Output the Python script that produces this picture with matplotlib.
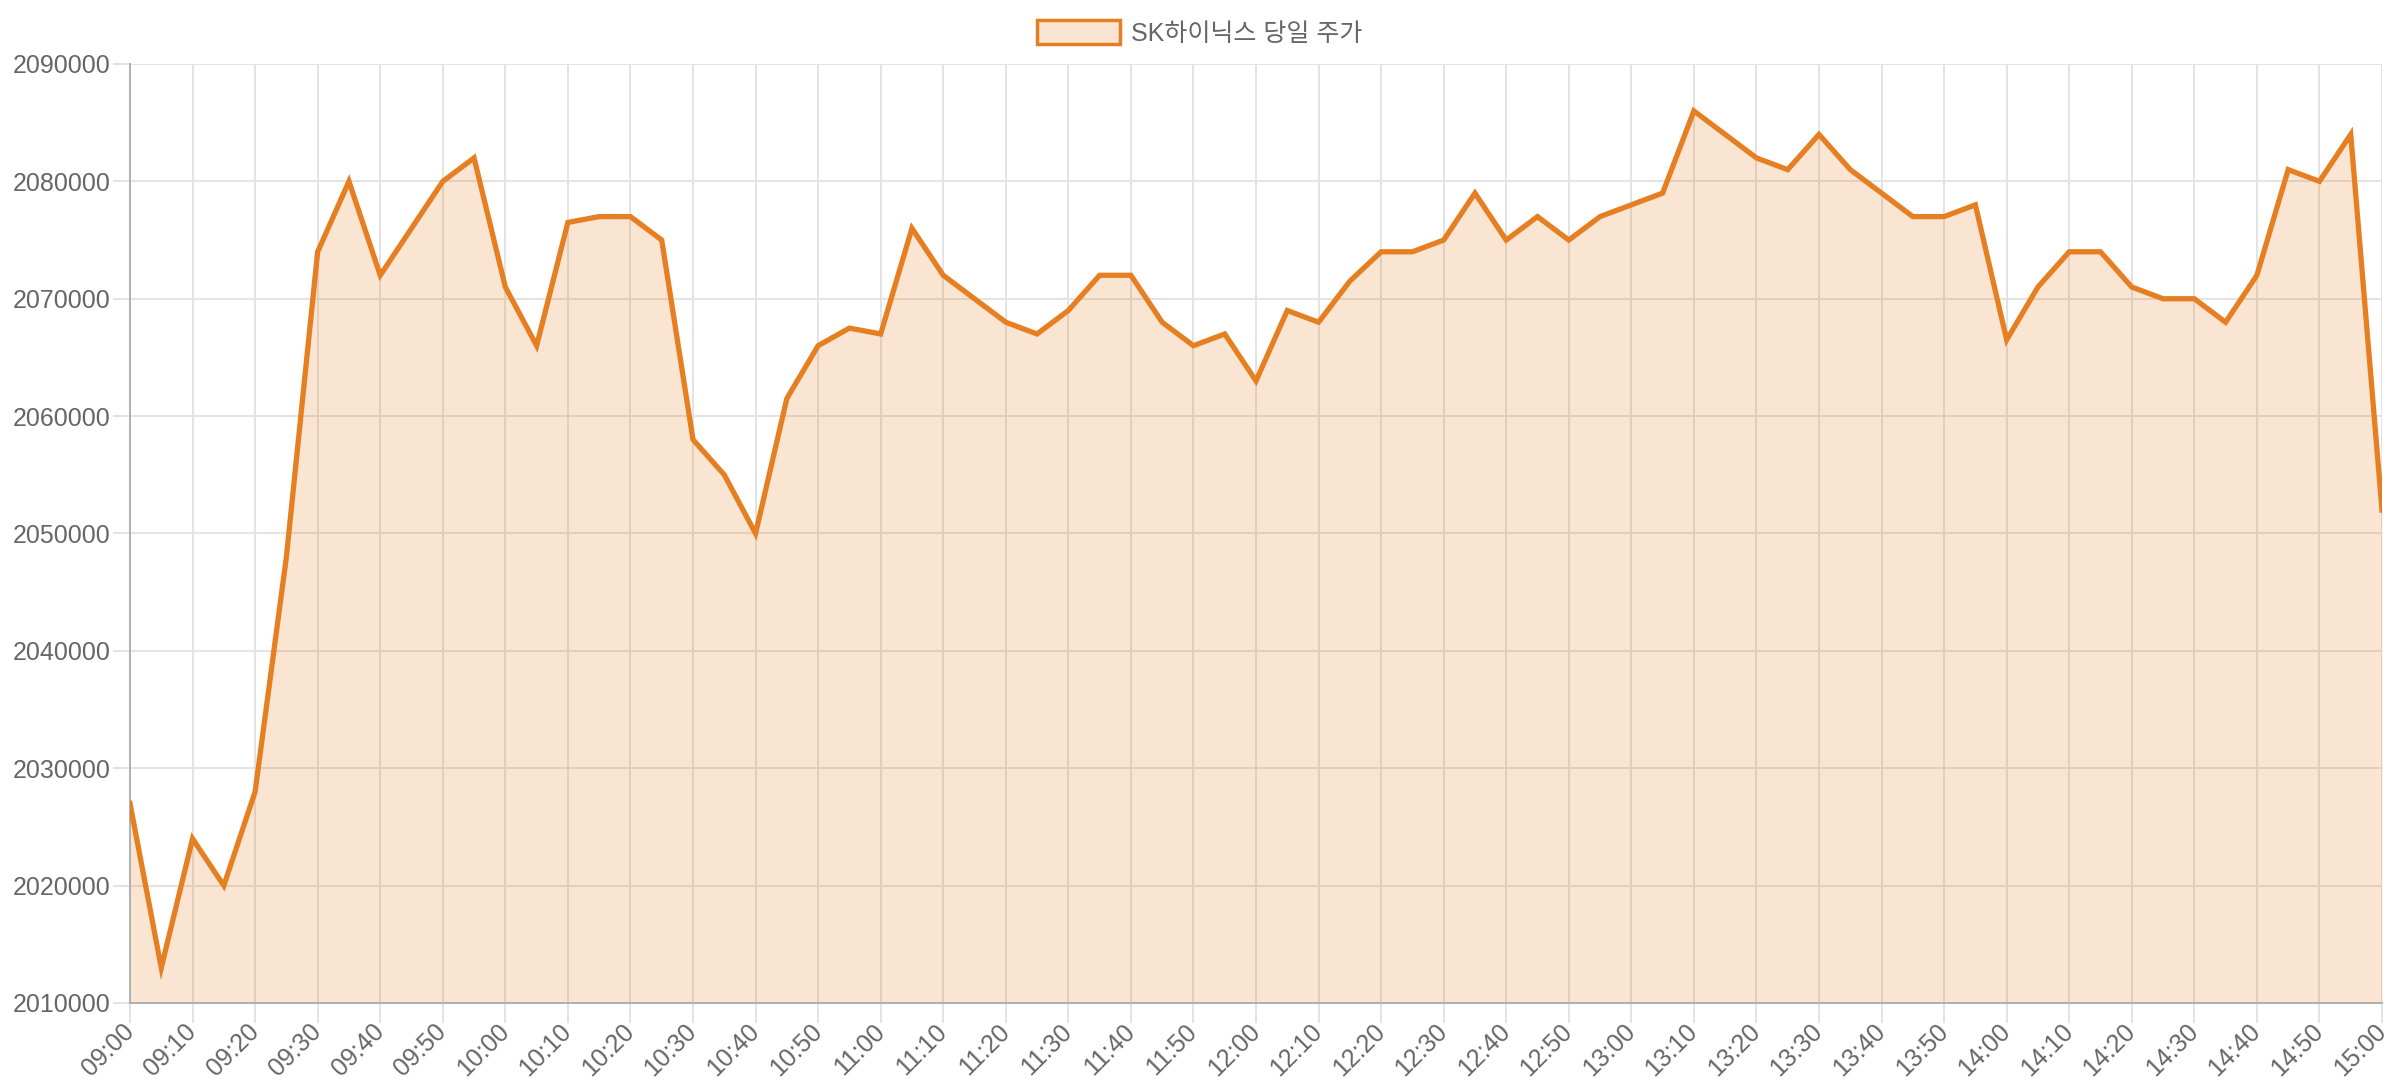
import matplotlib
matplotlib.use('Agg')
import matplotlib.pyplot as plt
from matplotlib.patches import Patch

times = [
    '09:00', '09:05', '09:10', '09:15', '09:20', '09:25', '09:30', '09:35', '09:40', '09:45',
    '09:50', '09:55', '10:00', '10:05', '10:10', '10:15', '10:20', '10:25', '10:30', '10:35',
    '10:40', '10:45', '10:50', '10:55', '11:00', '11:05', '11:10', '11:15', '11:20', '11:25',
    '11:30', '11:35', '11:40', '11:45', '11:50', '11:55', '12:00', '12:05', '12:10', '12:15',
    '12:20', '12:25', '12:30', '12:35', '12:40', '12:45', '12:50', '12:55', '13:00', '13:05',
    '13:10', '13:15', '13:20', '13:25', '13:30', '13:35', '13:40', '13:45', '13:50', '13:55',
    '14:00', '14:05', '14:10', '14:15', '14:20', '14:25', '14:30', '14:35', '14:40', '14:45',
    '14:50', '14:55', '15:00',
]
prices = [
    2027000, 2013000, 2024000, 2020000, 2028000, 2048000, 2074000, 2080000, 2072000, 2076000,
    2080000, 2082000, 2071000, 2066000, 2076500, 2077000, 2077000, 2075000, 2058000, 2055000,
    2050000, 2061500, 2066000, 2067500, 2067000, 2076000, 2072000, 2070000, 2068000, 2067000,
    2069000, 2072000, 2072000, 2068000, 2066000, 2067000, 2063000, 2069000, 2068000, 2071500,
    2074000, 2074000, 2075000, 2079000, 2075000, 2077000, 2075000, 2077000, 2078000, 2079000,
    2086000, 2084000, 2082000, 2081000, 2084000, 2081000, 2079000, 2077000, 2077000, 2078000,
    2066500, 2071000, 2074000, 2074000, 2071000, 2070000, 2070000, 2068000, 2072000, 2081000,
    2080000, 2084000, 2052000,
]
series_label = 'SK하이닉스 당일 주가'
y_min, y_max, y_step = 2010000, 2090000, 10000
y_ticks = list(range(y_min, y_max + 1, y_step))

plt.rcParams['font.family'] = ['Liberation Sans', 'Noto Sans CJK KR', 'DejaVu Sans']

W, H = 2400, 1080
fig = plt.figure(figsize=(W / 100, H / 100), dpi=100)
left, right, top, bottom = 130, 2382, 64, 1003
ax = fig.add_axes([left / W, 1 - bottom / H, (right - left) / W, (bottom - top) / H])

line_color = '#E67E22'
fill_rgba = (230 / 255, 126 / 255, 34 / 255, 0.2)
grid_color = '#e3e3e3'
axis_color = '#b0b0b0'
text_color = '#666666'

x = list(range(len(times)))
ax.fill_between(x, prices, y_min, color=fill_rgba, linewidth=0, zorder=2)
ax.plot(x, prices, color=line_color, lw=3.8, solid_joinstyle='miter', zorder=3)

ax.set_xlim(0, len(times) - 1)
ax.set_ylim(y_min, y_max)
ax.set_xticks(x[::2])
ax.set_xticklabels(times[::2], rotation=45, ha='right', va='center', rotation_mode='anchor')
ax.set_yticks(y_ticks)
ax.set_yticklabels([str(v) for v in y_ticks])

ax.set_axisbelow(True)
ax.grid(True, color=grid_color, lw=1.4, zorder=0)
for s in ['top', 'right']:
    ax.spines[s].set_visible(False)
for s in ['left', 'bottom']:
    ax.spines[s].set_color(axis_color)
    ax.spines[s].set_linewidth(1.4)

ax.tick_params(axis='both', color=grid_color, width=1.4, labelcolor=text_color, labelsize=18)
ax.tick_params(axis='x', length=14.4, pad=3.5)
ax.tick_params(axis='y', length=12, pad=2)
ax.xaxis.get_major_ticks()[0].tick1line.set_color(axis_color)

handle = Patch(facecolor=fill_rgba, edgecolor=line_color, linewidth=2.5)
fig.legend(handles=[handle], labels=[series_label], loc='center',
           bbox_to_anchor=(0.5, 1 - 33 / H), frameon=False, fontsize=18,
           labelcolor=text_color, handlelength=3.3, handleheight=1.1, handletextpad=0.45)

fig.savefig('out.png', dpi=100, facecolor='white')
